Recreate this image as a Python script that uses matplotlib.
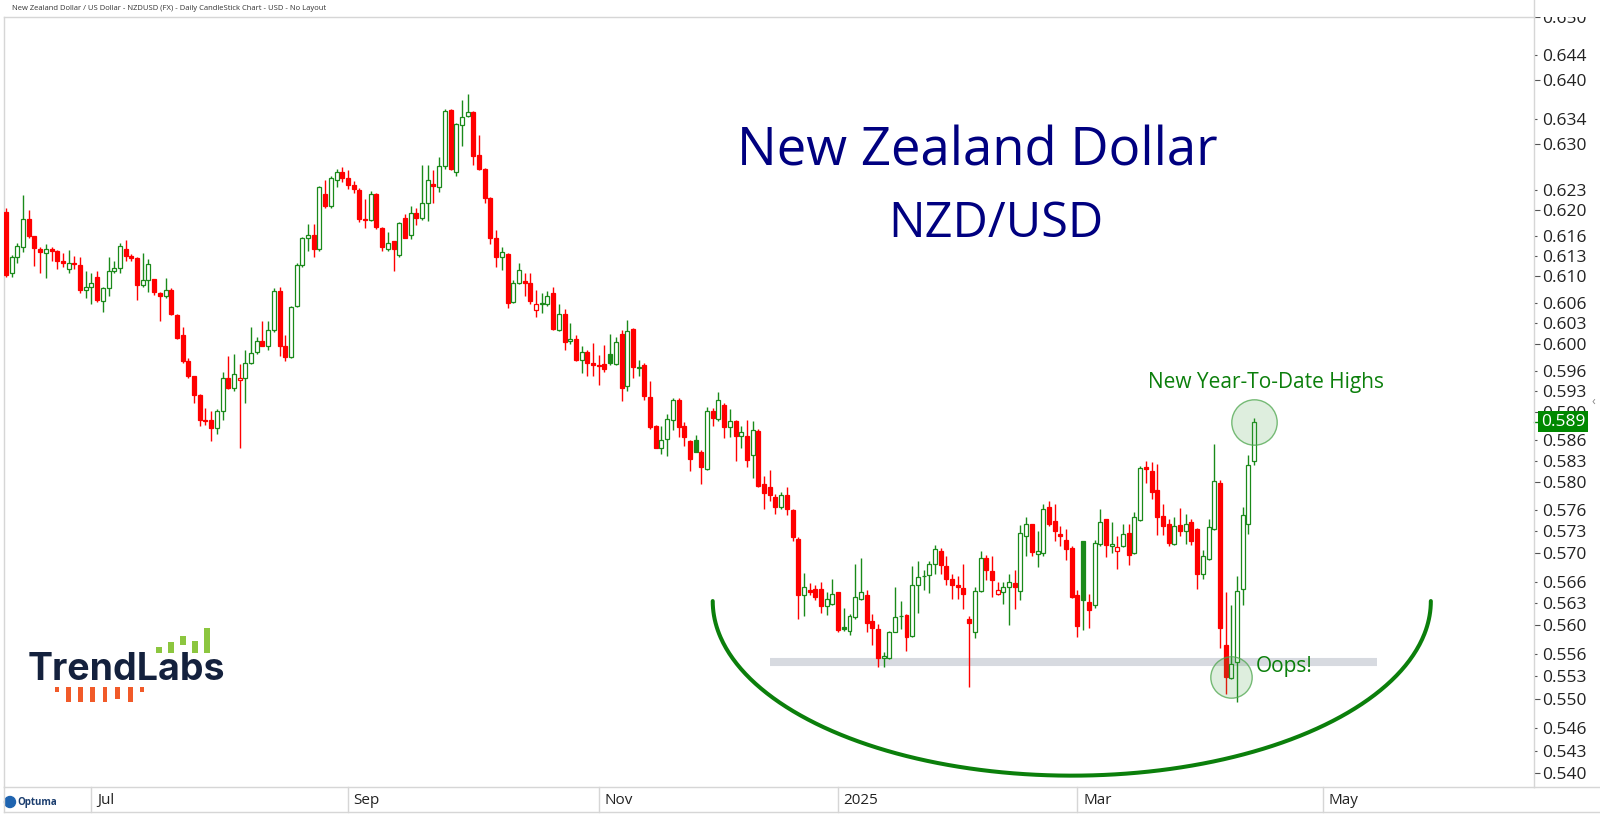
import numpy as np
import pandas as pd
import matplotlib
matplotlib.use('Agg')
import matplotlib.pyplot as plt
import matplotlib.transforms as mtransforms
from matplotlib.lines import Line2D
from matplotlib.patches import Rectangle, Ellipse

plt.rcParams['font.family'] = ['Open Sans', 'DejaVu Sans']

# NZDUSD daily candles, 10 Jun 2024 -> 15 Apr 2025
opens = [
    .6197, .6105, .6128, .6144, .6186, .6160, .6140, .6134, .6140, .6138,
    .6123, .6110, .6120, .6117, .6080, .6083, .6099, .6063, .6082, .6107,
    .6112, .6140, .6130, .6127, .6087, .6094, .6095, .6075, .6070, .6080,
    .6042, .6012, .5975, .5952, .5925, .5889, .5888, .5877, .5901, .5950,
    .5935, .5946, .5949, .5972, .5987, .6004, .5997, .6020, .6078, .5997,
    .5980, .6055, .6117, .6157, .6162, .6140, .6224, .6205, .6245, .6257,
    .6248, .6238, .6230, .6186, .6184, .6224, .6172, .6140, .6152, .6132,
    .6187, .6162, .6195, .6188, .6210, .6240, .6235, .6267, .6353, .6258,
    .6330, .6344, .6350, .6284, .6262, .6218, .6158, .6128, .6133, .6062,
    .6090, .6093, .6089, .6050, .6058, .6058, .6075, .6020, .6043, .6004,
    .6006, .5976, .5987, .5971, .5969, .5970, .5984, .5970, .6014, .5938,
    .6021, .5964, .5969, .5922, .5880, .5849, .5861, .5888, .5918, .5880,
    .5858, .5860, .5843, .5818, .5902, .5890, .5911, .5878, .5887, .5865,
    .5866, .5839, .5873, .5797, .5792, .5779, .5765, .5781, .5760, .5720,
    .5642, .5648, .5649, .5650, .5626, .5629, .5645, .5597, .5592, .5611,
    .5636, .5642, .5605, .5595, .5555, .5555, .5591, .5612, .5614, .5585,
    .5655, .5667, .5669, .5685, .5703, .5682, .5664, .5655, .5651, .5608,
    .5591, .5647, .5693, .5675, .5643, .5646, .5652, .5658, .5647, .5724,
    .5740, .5699, .5700, .5765, .5745, .5727, .5718, .5707, .5642, .5716,
    .5631, .5628, .5713, .5747, .5709, .5703, .5710, .5728, .5700, .5746,
    .5821, .5816, .5788, .5752, .5740, .5713, .5739, .5730, .5743, .5733,
    .5671, .5691, .5733, .5798, .5572, .5528, .5549, .5650, .5740, .5830,
]
highs = [
    .6202, .6132, .6150, .6223, .6200, .6161, .6143, .6148, .6143, .6139,
    .6135, .6139, .6130, .6128, .6108, .6105, .6108, .6083, .6129, .6123,
    .6150, .6154, .6133, .6128, .6135, .6125, .6096, .6077, .6097, .6082,
    .6043, .6024, .5979, .5953, .5926, .5906, .5901, .5905, .5959, .5981,
    .5984, .5970, .5991, .6024, .6009, .6033, .6033, .6082, .6084, .6013,
    .6055, .6119, .6159, .6179, .6178, .6237, .6245, .6252, .6263, .6266,
    .6260, .6244, .6233, .6216, .6229, .6226, .6174, .6166, .6153, .6182,
    .6194, .6205, .6202, .6269, .6268, .6260, .6280, .6355, .6355, .6334,
    .6369, .6378, .6352, .6314, .6264, .6220, .6170, .6144, .6135, .6094,
    .6119, .6104, .6104, .6079, .6075, .6078, .6084, .6059, .6051, .6031,
    .6012, .5996, .5990, .6001, .5983, .5998, .6014, .6010, .6020, .6035,
    .6023, .5976, .5972, .5945, .5882, .5880, .5897, .5920, .5921, .5885,
    .5860, .5867, .5846, .5907, .5906, .5929, .5913, .5904, .5889, .5880,
    .5888, .5887, .5876, .5809, .5817, .5783, .5785, .5792, .5762, .5722,
    .5672, .5658, .5655, .5660, .5646, .5664, .5646, .5624, .5615, .5685,
    .5693, .5648, .5615, .5602, .5563, .5592, .5652, .5633, .5615, .5681,
    .5689, .5676, .5688, .5711, .5707, .5695, .5671, .5667, .5685, .5613,
    .5652, .5702, .5697, .5696, .5660, .5660, .5671, .5676, .5739, .5750,
    .5741, .5730, .5768, .5773, .5768, .5737, .5733, .5710, .5648, .5717,
    .5643, .5718, .5761, .5748, .5743, .5724, .5741, .5741, .5757, .5823,
    .5830, .5828, .5826, .5768, .5747, .5750, .5763, .5755, .5747, .5735,
    .5704, .5747, .5854, .5802, .5646, .5627, .5668, .5765, .5839, .5891,
]
lows = [
    .6099, .6099, .6119, .6136, .6158, .6115, .6105, .6097, .6122, .6111,
    .6113, .6105, .6110, .6075, .6068, .6058, .6062, .6047, .6070, .6105,
    .6105, .6123, .6123, .6065, .6084, .6076, .6072, .6033, .6068, .6042,
    .6006, .5971, .5950, .5913, .5880, .5881, .5859, .5868, .5888, .5933,
    .5930, .5849, .5913, .5970, .5984, .5996, .5991, .6017, .5981, .5974,
    .5979, .6054, .6113, .6138, .6129, .6138, .6203, .6203, .6235, .6242,
    .6232, .6226, .6182, .6173, .6183, .6171, .6138, .6138, .6108, .6129,
    .6157, .6155, .6177, .6185, .6183, .6211, .6227, .6262, .6260, .6252,
    .6297, .6342, .6268, .6260, .6211, .6148, .6113, .6109, .6053, .6060,
    .6088, .6070, .6059, .6039, .6045, .6056, .6020, .6018, .5991, .6000,
    .5975, .5957, .5952, .5952, .5940, .5959, .5969, .5969, .5916, .5931,
    .5950, .5952, .5918, .5875, .5848, .5840, .5837, .5874, .5864, .5851,
    .5816, .5842, .5797, .5817, .5880, .5887, .5863, .5864, .5830, .5849,
    .5821, .5806, .5793, .5762, .5773, .5755, .5761, .5753, .5716, .5608,
    .5613, .5641, .5634, .5617, .5614, .5628, .5590, .5592, .5586, .5608,
    .5635, .5590, .5572, .5543, .5542, .5554, .5590, .5594, .5564, .5583,
    .5616, .5648, .5644, .5671, .5671, .5655, .5636, .5636, .5622, .5516,
    .5582, .5646, .5662, .5639, .5641, .5629, .5600, .5622, .5635, .5695,
    .5695, .5680, .5696, .5737, .5717, .5709, .5690, .5637, .5584, .5593,
    .5596, .5624, .5709, .5694, .5700, .5678, .5708, .5683, .5699, .5745,
    .5799, .5776, .5725, .5725, .5710, .5711, .5724, .5713, .5711, .5649,
    .5663, .5690, .5732, .5569, .5506, .5527, .5495, .5628, .5726, .5824,
]
closes = [
    .6102, .6128, .6145, .6186, .6160, .6142, .6136, .6140, .6138, .6123,
    .6119, .6120, .6118, .6080, .6084, .6090, .6064, .6082, .6107, .6112,
    .6145, .6130, .6127, .6087, .6094, .6118, .6076, .6070, .6080, .6043,
    .6008, .5975, .5952, .5925, .5889, .5887, .5877, .5901, .5950, .5935,
    .5955, .5949, .5972, .5986, .6004, .5997, .6020, .6078, .5997, .5980,
    .6054, .6117, .6157, .6162, .6141, .6234, .6205, .6248, .6257, .6248,
    .6238, .6232, .6186, .6184, .6224, .6174, .6143, .6150, .6140, .6180,
    .6158, .6195, .6187, .6210, .6245, .6236, .6267, .6352, .6263, .6332,
    .6342, .6351, .6282, .6263, .6218, .6158, .6128, .6136, .6060, .6089,
    .6109, .6089, .6063, .6058, .6060, .6071, .6022, .6043, .6002, .6006,
    .5976, .5987, .5971, .5969, .5967, .5962, .5971, .6002, .5935, .6019,
    .5965, .5966, .5923, .5879, .5849, .5860, .5890, .5918, .5878, .5864,
    .5832, .5843, .5821, .5901, .5892, .5918, .5878, .5887, .5866, .5871,
    .5831, .5874, .5794, .5784, .5782, .5765, .5781, .5762, .5722, .5642,
    .5652, .5646, .5638, .5626, .5636, .5643, .5593, .5595, .5612, .5639,
    .5646, .5603, .5596, .5555, .5558, .5590, .5611, .5613, .5584, .5655,
    .5666, .5668, .5685, .5705, .5683, .5664, .5655, .5653, .5643, .5603,
    .5647, .5693, .5676, .5662, .5648, .5652, .5660, .5652, .5728, .5740,
    .5701, .5703, .5762, .5741, .5730, .5723, .5705, .5638, .5599, .5635,
    .5620, .5714, .5743, .5711, .5712, .5708, .5726, .5697, .5750, .5820,
    .5818, .5785, .5750, .5738, .5714, .5738, .5730, .5740, .5716, .5671,
    .5695, .5736, .5801, .5596, .5529, .5547, .5647, .5753, .5824, .5886,
]

first_day = '2024-06-10'
holidays = ['2024-12-25', '2025-01-01']
month_starts = ['2024-07-01', '2024-09-01', '2024-11-01', '2025-01-01', '2025-03-01', '2025-05-01']
month_labels = ['Jul', 'Sep', 'Nov', '2025', 'Mar', 'May']

major_ticks = [0.540, 0.550, 0.560, 0.570, 0.580, 0.590, 0.600, 0.610, 0.620, 0.630, 0.640, 0.650]
minor_ticks = [0.543, 0.546, 0.553, 0.556, 0.563, 0.566, 0.573, 0.576, 0.583, 0.586,
               0.593, 0.596, 0.603, 0.606, 0.613, 0.616, 0.623, 0.634, 0.644]

# annotations (bar index / price)
support_level = 0.5550
support_span = (134, 240.5)
arc_span = (124, 250)
arc_top, arc_bottom = 0.5633, 0.5397
low_mark = (215, 0.5529)
high_mark = (219, 0.5886)

RED = '#ff0000'
GREEN = '#1a8a1a'
ANNOT = '#0b7f0b'
GRID = '#d6d6d6'

W, H = 1600, 819
fig = plt.figure(figsize=(W / 100, H / 100), dpi=100)
ax = fig.add_axes([4 / W, 1 - 787 / H, 1530 / W, 770 / H])
ax.set_yscale('log')

o = np.array(opens)
hi = np.array(highs)
lo = np.array(lows)
c = np.array(closes)
x = np.arange(len(c))
prev = np.r_[o[0], c[:-1]]
cols = [GREEN if cc >= pc else RED for cc, pc in zip(c, prev)]
faces = ['white' if cc > oo else col for cc, oo, col in zip(c, o, cols)]

ax.vlines(x, lo, hi, colors=cols, lw=1, zorder=2)
body_lo = np.minimum(o, c)
body_hi = np.maximum(o, c)
ax.bar(x, body_hi - body_lo, bottom=body_lo, width=0.7, color=faces,
       edgecolor=cols, linewidth=0.9, zorder=3)

# support band and the rounding-bottom arc
ax.plot(support_span, [support_level, support_level], color='#d7dae0', lw=5.8,
        solid_capstyle='butt', zorder=1)
t = np.linspace(0, np.pi, 300)
cx = (arc_span[0] + arc_span[1]) / 2
a = (arc_span[1] - arc_span[0]) / 2
arc_x = cx - a * np.cos(t)
arc_y = np.exp(np.log(arc_top) - (np.log(arc_top) - np.log(arc_bottom)) * np.sin(t))
ax.plot(arc_x, arc_y, color=ANNOT, lw=2.9, zorder=6, solid_capstyle='round')

ax.scatter([high_mark[0]], [high_mark[1]], s=1069, facecolor=(0.3, 0.65, 0.3, 0.18),
           edgecolor=(0.3, 0.65, 0.3, 0.75), lw=1, zorder=5)
ax.scatter([low_mark[0]], [low_mark[1]], s=888, facecolor=(0.3, 0.65, 0.3, 0.18),
           edgecolor=(0.3, 0.65, 0.3, 0.75), lw=1, zorder=5)

ax.set_xlim(-0.35, 268.1)
ax.set_ylim(0.5382, 0.650)

# x axis: first trading day of every other month
days = pd.bdate_range(first_day, '2025-06-30')
days = days[~days.isin(pd.to_datetime(holidays))]
tick_pos = [int(np.searchsorted(days, pd.Timestamp(m))) for m in month_starts]
ax.set_xticks(tick_pos)
ax.set_xticklabels(month_labels, fontsize=11, color='#222222')
ax.tick_params(axis='x', length=0, pad=4)
shift = mtransforms.ScaledTranslation(4 / 72, 0, fig.dpi_scale_trans)
for lbl in ax.get_xticklabels():
    lbl.set_horizontalalignment('left')
    lbl.set_transform(lbl.get_transform() + shift)
sep = mtransforms.blended_transform_factory(ax.transData, ax.transAxes)
for p in tick_pos:
    ax.plot([p, p], [0, -25 / 770], transform=sep, color=GRID, lw=1, clip_on=False)

# y axis on the right
ax.yaxis.tick_right()
ax.set_yticks(major_ticks)
ax.set_yticklabels([f'{v:.3f}' for v in major_ticks])
ax.set_yticks(minor_ticks, minor=True)
ax.set_yticklabels([f'{v:.3f}' for v in minor_ticks], minor=True)
ax.tick_params(axis='y', which='major', length=4.3, width=0.8, color='#555555',
               labelsize=12.5, labelcolor='#222222', pad=1.5)
ax.tick_params(axis='y', which='minor', length=2.2, width=0.8, color='#555555',
               labelsize=12.5, labelcolor='#222222', pad=3.6)
for s in ax.spines.values():
    s.set_color(GRID)
    s.set_linewidth(1)

# last price tag
ptrans = mtransforms.blended_transform_factory(ax.transAxes, ax.transData)
ax.plot([1, 1 + 5 / 1530], [c[-1], c[-1]], transform=ptrans, color='#008800', lw=1, clip_on=False)
ax.text(1 + 7 / 1530, c[-1], f'{c[-1]:.3f}', transform=ptrans, ha='left', va='center',
        fontsize=12.5, color='white', zorder=10, clip_on=False,
        bbox=dict(boxstyle='square,pad=0.15', fc='#008800', ec='none'))
fig.text(1593 / W, 1 - 401 / H, '\u2039', fontsize=9, color='#888888', ha='center', va='center')

# frame pieces outside the plot area
def fline(xs, ys):
    fig.add_artist(Line2D([v / W for v in xs], [1 - v / H for v in ys], color=GRID, lw=1))

fline([4, 1600], [812, 812])
fline([1534, 1600], [787, 787])
fline([4, 4], [787, 812])
# the top price label is cut by the window edge
fig.add_artist(Rectangle((1536 / W, 1 - 17 / H), 64 / W, 17 / H, transform=fig.transFigure,
                         fc='white', ec='none', zorder=20))
fline([1534, 1534], [0, 17])

# header and titles
fig.text(12 / W, 1 - 8 / H,
         'New Zealand Dollar / US Dollar - NZDUSD (FX) - Daily CandleStick Chart - USD - No Layout',
         fontsize=5.5, color='#333333', va='center')
fig.text(977 / W, 1 - 165 / H, 'New Zealand Dollar', ha='center', va='baseline',
         fontsize=38, color='#000080')
fig.text(996 / W, 1 - 237 / H, 'NZD/USD', ha='center', va='baseline', fontsize=35, color='#000080')
fig.text(1266 / W, 1 - 388 / H, 'New Year-To-Date Highs', ha='center', va='baseline',
         fontsize=15, color=ANNOT)
fig.text(1284 / W, 1 - 672 / H, 'Oops!', ha='center', va='baseline', fontsize=15, color=ANNOT)

# TrendLabs logo
green_x = [158.8, 171.2, 182.8, 195, 206.7]
green_top = [646.7, 641.7, 636, 640.7, 628.3]
green_bottom = [652.7, 652.7, 645, 652.7, 652.7]
orange_x = [57, 68.5, 80.5, 92.5, 105, 117.5, 130.5, 142]
orange_len = [5, 15, 15, 15, 15, 12, 15, 5]
logo = fig.add_axes([20 / W, 1 - 710 / H, 210 / W, 100 / H])
logo.set_xlim(20, 230)
logo.set_ylim(710, 610)
logo.axis('off')
logo.bar(green_x, np.array(green_top) - np.array(green_bottom), bottom=green_bottom,
         width=5.8, color='#8cc63f')
logo.bar(orange_x, orange_len, bottom=687, width=4.6, color='#f15a29')
logo.text(28, 680, 'TrendLabs', fontsize=27, fontweight='bold', color='#14213d',
          va='baseline', family=['Inter', 'DejaVu Sans'])

# Optuma mark
fig.add_artist(Ellipse((10 / W, 1 - 802 / H), 11 / W, 11 / H, transform=fig.transFigure,
                       color='#1f64b0'))
fig.text(17 / W, 1 - 802 / H, 'Optuma', fontsize=7, fontweight='bold', color='#1b3d6e',
         va='center')

fig.savefig('out.png', dpi=100)
